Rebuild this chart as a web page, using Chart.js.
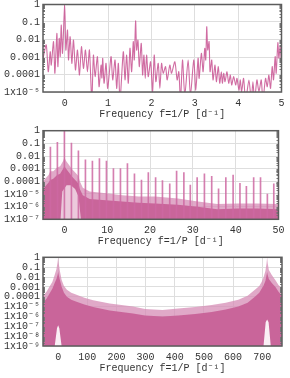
<!DOCTYPE html>
<html><head><meta charset="utf-8">
<script src="https://cdn.jsdelivr.net/npm/chart.js@4.4.1/dist/chart.umd.min.js"></script>
<style>
html,body{margin:0;padding:0;background:#fff;width:290px;height:378px;overflow:hidden;}
canvas{position:absolute;left:0;}
</style></head><body>
<canvas id="c1" width="290" height="125" style="top:0;width:290px;height:125px"></canvas>
<canvas id="c2" width="290" height="125" style="top:125px;width:290px;height:125px"></canvas>
<canvas id="c3" width="290" height="128" style="top:250px;width:290px;height:128px"></canvas>
<script>
// ---------- shared labels ----------
const xTitle = 'Frequency f=1/P [d\u207B\u00B9]';

// ---------- panel 1 : line periodogram ----------
const x1Ticks = [0, 1, 2, 3, 4, 5];
const y1Ticks = [1e-5, 1e-4, 1e-3, 1e-2, 1e-1, 1];
const y1Labels = ['1x10\u207B\u2075', '0.0001', '0.001', '0.01', '0.1', '1'];
const freq1 = [-0.5,-0.425,-0.379,-0.333,-0.310,-0.257,-0.226,-0.180,-0.157,-0.126,-0.103,-0.080,-0.050,0,0.027,0.065,0.088,0.126,0.165,0.203,0.249,0.295,0.341,0.387,0.433,0.479,0.525,0.571,0.625,0.663,0.701,0.755,0.793,0.839,0.858,0.877,0.908,0.954,0.992,1.069,1.107,1.161,1.199,1.238,1.276,1.352,1.391,1.429,1.467,1.506,1.544,1.582,1.605,1.636,1.659,1.690,1.720,1.766,1.797,1.828,1.858,1.889,1.927,1.981,2.027,2.065,2.103,2.157,2.195,2.234,2.272,2.326,2.364,2.425,2.464,2.540,2.594,2.632,2.671,2.717,2.770,2.847,2.900,2.977,3.023,3.077,3.100,3.153,3.192,3.230,3.253,3.276,3.299,3.330,3.352,3.391,3.421,3.467,3.498,3.544,3.575,3.613,3.636,3.667,3.697,3.743,3.782,3.820,3.851,3.897,3.943,3.973,4.019,4.050,4.080,4.126,4.172,4.249,4.303,4.341,4.379,4.433,4.479,4.533,4.571,4.632,4.671,4.709,4.747,4.786,4.816,4.854,4.877,4.916,4.939,4.969,5.0];
const pow1Exp = [-3.1,-2.31,-3.84,-2.7,-3.46,-2.12,-3.93,-1.65,-3.55,-1.93,-2.98,-1.17,-2.79,0,-2.6,-1.46,-3.17,-1.84,-3.36,-2.03,-3.74,-2.6,-4.03,-2.41,-3.65,-2.6,-3.84,-2.6,-5.5,-2.89,-4.12,-2.98,-4.7,-3.46,-4.2,-3.07,-4.5,-3.36,-4.79,-2.98,-4.31,-3.17,-4.79,-3.36,-5.5,-2.7,-4.31,-2.89,-4.5,-2.5,-3.84,-2.12,-3.17,-0.94,-2.6,-2.03,-3.55,-2.22,-4.03,-2.89,-4.22,-2.89,-4.12,-3.27,-4.98,-2.89,-4.41,-3.36,-4.79,-3.36,-3.93,-3.55,-4.31,-3.46,-3.93,-3.27,-4.31,-3.84,-5.5,-3.17,-5.2,-3.17,-5.2,-3.17,-4.89,-3.07,-4.22,-2.79,-3.84,-2.5,-3.17,-1.27,-2.6,-2.12,-3.84,-3.17,-4.31,-3.46,-4.41,-3.55,-4.5,-3.84,-4.5,-3.93,-4.41,-3.84,-4.5,-4.03,-4.6,-4.12,-4.6,-4.22,-4.89,-4.31,-4.98,-4.22,-5.5,-4.31,-5.5,-4.41,-5.5,-4.31,-4.98,-4.31,-5.5,-4.22,-4.7,-4.03,-4.79,-3.55,-4.31,-2.98,-3.93,-2.18,-3.07,-2.41,-3.36];

// ---------- panel 2 : dense spectrum to 50 ----------
const x2Ticks = [0, 10, 20, 30, 40, 50];
const y2Ticks = [1e-7, 1e-6, 1e-5, 1e-4, 1e-3, 1e-2, 1e-1, 1];
const y2Labels = ['1x10\u207B\u2077', '1x10\u207B\u2076', '1x10\u207B\u2075', '0.0001', '0.001', '0.01', '0.1', '1'];
const band2F  = [-5,-4.5,-3.7,-3.3,-2.6,-1.7,-1.0,-0.3,0,0.4,1.3,1.7,2.8,3.3,3.6,4.3,5.9,9.7,13.5,17.4,21.2,26.5,31.2,35.7,40.4,45,50];
const band2Hi = [-4.0,-3.8,-3.5,-3.2,-3.2,-2.9,-2.8,-2.4,-2.1,-2.4,-2.8,-3.0,-3.4,-3.6,-4.0,-4.5,-4.8,-4.95,-5.1,-5.2,-5.2,-5.35,-5.6,-5.8,-5.75,-5.75,-5.8];
const band2Lo = [-4.6,-4.4,-4.1,-3.9,-3.8,-3.5,-3.4,-3.0,-2.8,-3.0,-3.4,-3.6,-4.0,-4.2,-4.6,-5.1,-5.4,-5.5,-5.6,-5.7,-5.75,-5.85,-6.0,-6.2,-6.15,-6.15,-6.2];
const spike2F = [-3.27,-1.64,0,1.64,3.27,4.91,6.54,8.18,9.82,11.45,13.09,14.72,16.36,18.0,19.6,21.3,22.9,24.6,26.2,27.9,29.4,31.0,32.7,34.4,36.0,37.7,39.4,41.0,42.5,44.2,45.8,47.4,48.9];
const spike2E = [-1.3,-0.92,0,-0.97,-1.6,-2.3,-2.4,-2.2,-2.4,-3.0,-3.0,-2.6,-3.4,-3.9,-3.3,-3.7,-3.95,-4.2,-3.2,-3.3,-4.3,-3.7,-3.4,-3.6,-4.6,-3.7,-3.5,-4.15,-4.4,-3.7,-3.7,-5.0,-4.2];
const hole2F = [-1.0,-0.5,0.5,1.5,2.5,3.3,4.0];
const hole2E = [-7.5,-4.8,-4.3,-4.3,-4.6,-5.2,-7.5];

// ---------- panel 3 : full range ----------
const x3Ticks = [0, 100, 200, 300, 400, 500, 600, 700];
const y3Ticks = [1e-9, 1e-8, 1e-7, 1e-6, 1e-5, 1e-4, 1e-3, 1e-2, 1e-1, 1];
const y3Labels = ['1x10\u207B\u2079', '1x10\u207B\u2078', '1x10\u207B\u2077', '1x10\u207B\u2076', '1x10\u207B\u2075', '0.0001', '0.001', '0.01', '0.1', '1'];
const band3F  = [-52,-40,-30,-20,-12,-6,-2,0,2,6,12,20,30,45,63,90,120,177,257,298,358,412,470,527,575,618,650,675,690,698,704,711,715,717,719,723,733,745,756,768];
const band3Hi = [-3.9,-3.5,-3.0,-2.5,-1.8,-1.2,-0.5,0,-0.6,-1.4,-2.3,-2.9,-3.3,-3.6,-3.8,-4.1,-4.35,-4.7,-5.0,-5.25,-5.35,-5.2,-5.05,-4.85,-4.6,-4.3,-3.9,-3.3,-2.9,-2.5,-2.1,-1.4,-0.6,0,-0.6,-1.3,-1.8,-2.3,-2.8,-3.2];
const band3Lo = [-4.6,-4.2,-3.7,-3.2,-2.6,-2.2,-1.8,-1.5,-1.8,-2.3,-3.0,-3.6,-4.0,-4.3,-4.5,-4.8,-5.05,-5.4,-5.7,-5.9,-6.0,-5.9,-5.75,-5.55,-5.3,-5.0,-4.6,-4.0,-3.6,-3.2,-2.9,-2.4,-1.8,-1.5,-1.8,-2.2,-2.6,-3.0,-3.5,-3.9];
const hole3aF = [-14,-4,0,4,14];
const hole3aE = [-9.5,-7.2,-6.9,-7.2,-9.5];
const hole3bF = [703,712,717,722,731];
const hole3bE = [-9.5,-6.6,-6.3,-6.6,-9.5];

// ---------- helpers ----------
const pts = (xs, es) => xs.map((x, i) => ({x: x, y: Math.pow(10, es[i])}));
const FONT = "'Liberation Mono','DejaVu Sans Mono',monospace";
const TXT = '#333';
const GRID = '#dedede';
const PINK_LINE = 'rgba(200,82,146,0.85)';
const PINK_DARK = 'rgba(200,98,152,0.95)';
const PINK_LIGHT = 'rgba(214,140,182,0.75)';
const PINK_SPIKE = 'rgba(206,104,162,0.85)';

function fillSet(data, color, order) {
  return {type: 'line', data: data, fill: 'start', backgroundColor: color, borderColor: 'transparent',
          borderWidth: 0, pointRadius: 0, tension: 0, order: order};
}

const framePlugin = {
  id: 'frame',
  afterDatasetsDraw(chart) {
    const {ctx, chartArea: a, scales: {y}} = chart;
    ctx.save();
    ctx.strokeStyle = '#777';
    ctx.lineWidth = 1;
    const lo = Math.round(Math.log10(y.min)), hi = Math.round(Math.log10(y.max));
    ctx.beginPath();
    for (let k = lo; k < hi; k++) {
      for (let m = 2; m <= 9; m++) {
        const py = Math.round(y.getPixelForValue(m * Math.pow(10, k))) + 0.5;
        ctx.moveTo(a.left, py); ctx.lineTo(a.left + 2, py);
        ctx.moveTo(a.right, py); ctx.lineTo(a.right - 2, py);
      }
    }
    ctx.stroke();
    ctx.strokeStyle = '#5c5c5c';
    ctx.lineWidth = 1.5;
    ctx.strokeRect(a.left, a.top, a.right - a.left, a.bottom - a.top);
    ctx.restore();
  }
};

function makeChart(id, o) {
  return new Chart(document.getElementById(id), {
    type: 'line',
    data: {datasets: o.datasets},
    plugins: [framePlugin],
    options: {
      responsive: false, animation: false, events: [],
      layout: {padding: {top: o.padTop, right: 8, bottom: o.padBottom, left: 0}},
      plugins: {legend: {display: false}, tooltip: {enabled: false}},
      scales: {
        x: {
          type: 'linear', min: o.xMin, max: o.xMax, offset: false,
          afterBuildTicks: s => { s.ticks = o.xTicks.map(v => ({value: v})); },
          afterFit: s => { s.height = 28.5; },
          grid: {color: GRID, drawTicks: false, offset: false},
          border: {display: false},
          ticks: {font: {family: FONT, size: 10}, color: TXT, padding: 5.5, maxRotation: 0, autoSkip: false,
                  callback: v => String(v)},
          title: {display: true, text: xTitle, font: {family: FONT, size: 10}, color: TXT, padding: 0}
        },
        y: {
          type: 'logarithmic', min: o.yMin, max: o.yMax,
          afterBuildTicks: s => { s.ticks = o.yTicks.map(v => ({value: v})); },
          afterFit: s => { s.width = 43; },
          grid: {color: GRID, drawTicks: false},
          border: {display: false},
          ticks: {font: {family: FONT, size: 10, lineHeight: 0.2}, color: TXT, padding: 3, autoSkip: false,
                  callback: (v, i) => o.yLabels[i]}
        }
      }
    }
  });
}

makeChart('c1', {
  xMin: -0.5, xMax: 5, xTicks: x1Ticks, yMin: 1e-5, yMax: 1, yTicks: y1Ticks, yLabels: y1Labels,
  padTop: 4.5, padBottom: 4.5,
  datasets: [{type: 'line', data: pts(freq1, pow1Exp), borderColor: PINK_LINE, borderWidth: 1.1,
              pointRadius: 0, tension: 0.25, fill: false}]
});

makeChart('c2', {
  xMin: -5, xMax: 50, xTicks: x2Ticks, yMin: 1e-7, yMax: 1, yTicks: y2Ticks, yLabels: y2Labels,
  padTop: 5.7, padBottom: 2.2,
  datasets: [
    {type: 'bar', data: pts(spike2F, spike2E), backgroundColor: PINK_SPIKE, barThickness: 1, order: 0},
    fillSet(pts(hole2F, hole2E), 'rgba(255,255,255,0.65)', 1),
    fillSet(pts(band2F, band2Lo), PINK_DARK, 2),
    fillSet(pts(band2F, band2Hi), PINK_LIGHT, 3)
  ]
});

makeChart('c3', {
  xMin: -52, xMax: 768, xTicks: x3Ticks, yMin: 1e-9, yMax: 1, yTicks: y3Ticks, yLabels: y3Labels,
  padTop: 7.3, padBottom: 3.5,
  datasets: [
    fillSet(pts(hole3aF, hole3aE), 'rgba(255,255,255,0.9)', 1),
    fillSet(pts(hole3bF, hole3bE), 'rgba(255,255,255,0.9)', 1),
    fillSet(pts(band3F, band3Lo), PINK_DARK, 2),
    fillSet(pts(band3F, band3Hi), PINK_LIGHT, 3)
  ]
});
</script>
</body></html>
